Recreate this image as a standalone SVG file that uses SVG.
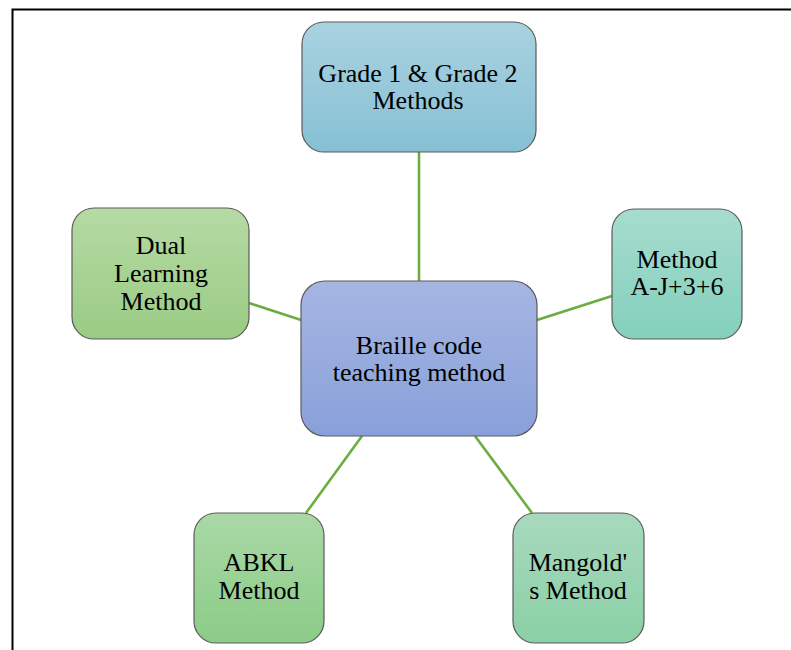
<svg xmlns="http://www.w3.org/2000/svg" width="791" height="650" viewBox="0 0 791 650">
<defs>
<style>
.node{stroke:#5a5a5a;stroke-width:1.2}
.lbl{font-family:'Liberation Serif','Times New Roman',serif;font-size:26px;fill:#000;text-anchor:middle}
.conn{stroke:#6bad3f;stroke-width:2.6;fill:none}
</style>
<linearGradient id="gTop" x1="0" y1="0" x2="0" y2="1"><stop offset="0" stop-color="#aad2e0"/><stop offset="1" stop-color="#86c0d4"/></linearGradient>
<linearGradient id="gCenter" x1="0" y1="0" x2="0" y2="1"><stop offset="0" stop-color="#a6b6e2"/><stop offset="1" stop-color="#88a0da"/></linearGradient>
<linearGradient id="gDual" x1="0" y1="0" x2="0" y2="1"><stop offset="0" stop-color="#b6daa4"/><stop offset="1" stop-color="#9acb84"/></linearGradient>
<linearGradient id="gAJ" x1="0" y1="0" x2="0" y2="1"><stop offset="0" stop-color="#a6dcce"/><stop offset="1" stop-color="#84d0bd"/></linearGradient>
<linearGradient id="gABKL" x1="0" y1="0" x2="0" y2="1"><stop offset="0" stop-color="#aad8a6"/><stop offset="1" stop-color="#8bcc87"/></linearGradient>
<linearGradient id="gMan" x1="0" y1="0" x2="0" y2="1"><stop offset="0" stop-color="#a8d9be"/><stop offset="1" stop-color="#8ad0a6"/></linearGradient>
</defs>
<rect width="791" height="650" fill="#fff"/>
<path d="M12.5 650 V9.5 H791" fill="none" stroke="#000" stroke-width="2"/>
<g id="connectors">
<line class="conn" x1="419" y1="152" x2="419" y2="281"/>
<line class="conn" x1="249" y1="303" x2="301" y2="320"/>
<line class="conn" x1="537" y1="320" x2="612" y2="296"/>
<line class="conn" x1="362" y1="436" x2="306" y2="513"/>
<line class="conn" x1="475" y1="436" x2="532" y2="513"/>
</g>
<g id="node-grade">
<rect class="node" x="302" y="22" width="234" height="130" rx="22" fill="url(#gTop)"/>
<text class="lbl" x="418" y="82">Grade 1 &amp; Grade 2</text>
<text class="lbl" x="418" y="109">Methods</text>
</g>
<g id="node-center">
<rect class="node" x="301" y="281" width="236" height="155" rx="24" fill="url(#gCenter)"/>
<text class="lbl" x="419" y="354">Braille code</text>
<text class="lbl" x="419" y="381">teaching method</text>
</g>
<g id="node-dual">
<rect class="node" x="72" y="208" width="177" height="131" rx="22" fill="url(#gDual)"/>
<text class="lbl" x="161" y="254">Dual</text>
<text class="lbl" x="161" y="282">Learning</text>
<text class="lbl" x="161" y="310">Method</text>
</g>
<g id="node-aj">
<rect class="node" x="612" y="209" width="130" height="130" rx="22" fill="url(#gAJ)"/>
<text class="lbl" x="677" y="268">Method</text>
<text class="lbl" x="677" y="295">A-J+3+6</text>
</g>
<g id="node-abkl">
<rect class="node" x="194" y="513" width="130" height="130" rx="22" fill="url(#gABKL)"/>
<text class="lbl" x="259" y="571">ABKL</text>
<text class="lbl" x="259" y="599">Method</text>
</g>
<g id="node-mangold">
<rect class="node" x="513" y="513" width="131" height="130" rx="22" fill="url(#gMan)"/>
<text class="lbl" x="578" y="571">Mangold'</text>
<text class="lbl" x="578" y="599">s Method</text>
</g>
</svg>
